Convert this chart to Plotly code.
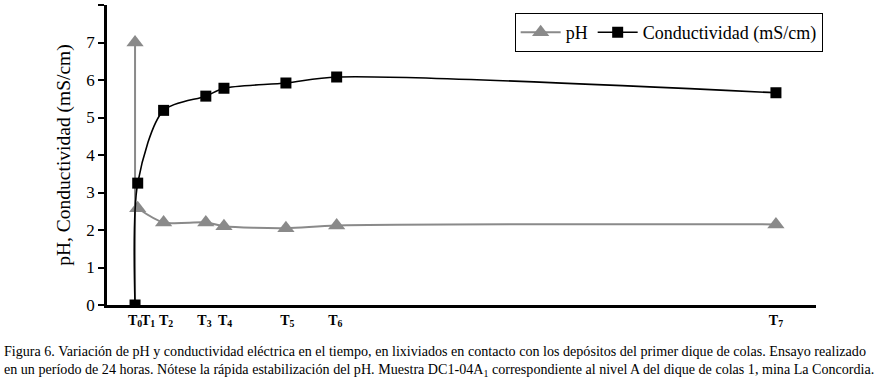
import plotly.graph_objects as go

# Data (time in hours)
t_hours = [0, 0.1, 1.07, 2.65, 3.33, 5.65, 7.55, 24]
ph = [7.0, 2.58, 2.2, 2.2, 2.1, 2.05, 2.12, 2.15]
conductividad = [0.0, 3.25, 5.19, 5.57, 5.78, 5.92, 6.08, 5.66]
tick_labels = ["T<sub>0</sub>", "T<sub>1</sub>", "T<sub>2</sub>", "T<sub>3</sub>",
               "T<sub>4</sub>", "T<sub>5</sub>", "T<sub>6</sub>", "T<sub>7</sub>"]
tick_label_pos = [0, 0.49, 1.16, 2.6, 3.37, 5.7, 7.5, 24]

FONT = "Liberation Serif"
GREY = "#8a8a8a"

fig = go.Figure()

# vertical grey line at T0 (from 0 up to first pH value)
fig.add_trace(go.Scatter(
    x=[t_hours[0], t_hours[0]], y=[0, ph[0]], mode="lines",
    line=dict(color=GREY, width=2), showlegend=False, hoverinfo="skip"))

# first pH marker (T0)
fig.add_trace(go.Scatter(
    x=t_hours[:1], y=ph[:1], mode="markers", showlegend=False,
    marker=dict(symbol="triangle-up", size=15, color=GREY)))

fig.add_trace(go.Scatter(
    x=t_hours[1:], y=ph[1:], mode="lines+markers", name="pH",
    line=dict(color=GREY, width=2, shape="spline", smoothing=0.8),
    marker=dict(symbol="triangle-up", size=15, color=GREY)))

fig.add_trace(go.Scatter(
    x=t_hours, y=conductividad, mode="lines+markers", name="Conductividad (mS/cm)",
    line=dict(color="black", width=1.6, shape="spline", smoothing=0.8),
    marker=dict(symbol="square", size=11, color="black")))

fig.update_layout(
    width=892, height=382,
    margin=dict(l=107, r=76, t=5, b=77, autoexpand=False),
    paper_bgcolor="white", plot_bgcolor="white",
    font=dict(family=FONT, color="black"),
    legend=dict(orientation="h", x=0.575, y=0.973, xanchor="left", yanchor="top",
                bordercolor="black", borderwidth=1, bgcolor="white",
                font=dict(family=FONT, size=18), itemwidth=40,
                tracegroupgap=0),
    showlegend=True,
)

fig.update_xaxes(
    range=[-1.05, 25.5], showgrid=False, zeroline=False, automargin=False,
    showline=True, linecolor="black", linewidth=2.5,
    tickmode="array", tickvals=tick_label_pos, tickangle=0,
    ticktext=["<b>" + s + "</b>" for s in tick_labels],
    ticks="", tickfont=dict(family=FONT, size=14, color="black"))

fig.update_yaxes(
    range=[0, 8], dtick=1, showgrid=False, zeroline=False, automargin=False,
    showline=True, linecolor="black", linewidth=2.5,
    ticks="outside", ticklen=6, tickwidth=1.5, tickcolor="black",
    ticklabelstandoff=0,
    tickfont=dict(family=FONT, size=17, color="black"),
    title=dict(text="pH, Conductividad (mS/cm)", font=dict(family=FONT, size=19.5), standoff=11))

fig.add_annotation(
    xref="paper", yref="paper", x=-105/709, y=-36/300, xanchor="left", yanchor="top",
    align="left", showarrow=False,
    text=("Figura 6. Variación de pH y conductividad eléctrica en el tiempo, en lixiviados en contacto con los depósitos del primer dique de colas. Ensayo realizado<br>"
          "en un período de 24 horas. Nótese la rápida estabilización del pH. Muestra DC1-04A<sub>1</sub> correspondiente al nivel A del dique de colas 1, mina La Concordia."),
    font=dict(family=FONT, size=14.1, color="black"))

fig.write_html("out.html", config={"displayModeBar": False},
               post_script="document.body.style.margin='0';")
